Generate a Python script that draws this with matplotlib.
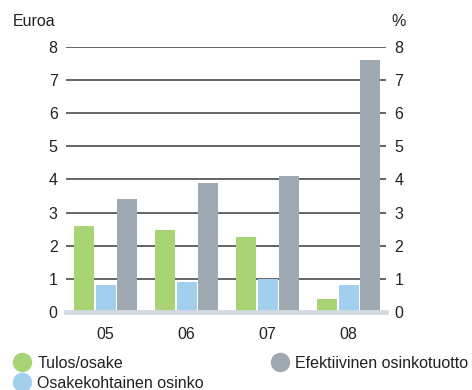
import matplotlib.pyplot as plt
import numpy as np
from matplotlib.lines import Line2D

# Datos
vuodet = ['05', '06', '07', '08']
tulos_osake = [2.6, 2.48, 2.26, 0.38]
osinko = [0.81, 0.91, 0.99, 0.81]
efektiivinen = [3.41, 3.9, 4.11, 7.6]
y_ticks = [0, 1, 2, 3, 4, 5, 6, 7, 8]

plt.rcParams['font.family'] = ['Liberation Sans', 'DejaVu Sans']

VIHREA = '#a9d475'
SININEN = '#a3cfee'
HARMAA = '#9fa9b2'
TEKSTI = '#222222'
FS = 11.5

fig = plt.figure(figsize=(4.72, 3.9), dpi=100)
ax = fig.add_axes([0.1398, 0.2008, 0.678, 0.678])

x = np.arange(len(vuodet))
w = 0.245
ax.bar(x - 0.265, tulos_osake, w, color=VIHREA, zorder=3)
ax.bar(x, osinko, w, color=SININEN, zorder=3)
ax.bar(x + 0.26, efektiivinen, w, color=HARMAA, zorder=3)

# Gridlines
for t in y_ticks[1:]:
    ax.axhline(t, color='#3a3a3a', lw=1.1, zorder=1)
ax.axhline(0, color='#d3d9e0', lw=3.4, zorder=4, clip_on=False)

ax.set_xlim(-0.49, 3.46)
ax.set_ylim(0, 8)
ax.set_yticks(y_ticks)
ax.set_xticks(x)
ax.set_xticklabels(vuodet)
for s in ax.spines.values():
    s.set_visible(False)
ax.tick_params(axis='y', length=0, pad=6.0, labelsize=FS, labelcolor=TEKSTI,
               labelleft=True, labelright=True)
ax.tick_params(axis='x', length=0, pad=11, labelsize=FS, labelcolor=TEKSTI)

fig.text(13 / 472, 1 - 21 / 390, 'Euroa', fontsize=FS, color=TEKSTI, va='center', ha='left')
fig.text(391 / 472, 1 - 21 / 390, '%', fontsize=FS, color=TEKSTI, va='center', ha='left')

# Legend
kahvat = [
    Line2D([], [], ls='', marker='o', markersize=13, color=VIHREA),
    Line2D([], [], ls='', marker='o', markersize=13, color=SININEN),
    Line2D([], [], ls='', marker='o', markersize=13, color=HARMAA),
]
nimet = ['Tulos/osake', 'Osakekohtainen osinko', 'Efektiivinen osinkotuotto']
fig.legend(kahvat, nimet, ncol=2, loc='upper left', bbox_to_anchor=(0.03, 0.087),
           frameon=False, fontsize=FS, handlelength=1.0, handletextpad=0.45,
           columnspacing=4.25, labelspacing=0.3, borderaxespad=0, borderpad=0,
           labelcolor=TEKSTI)

plt.savefig('out.png', dpi=100)
plt.close()
